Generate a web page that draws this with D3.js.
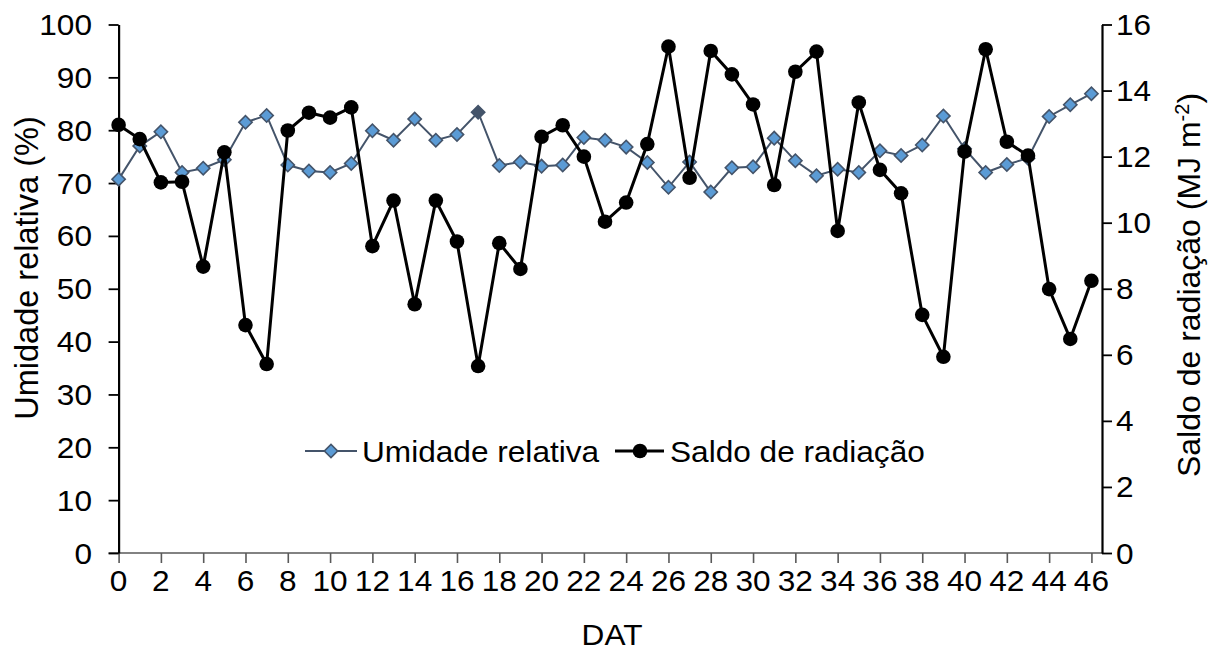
<!DOCTYPE html>
<html>
<head>
<meta charset="utf-8">
<script src="https://cdn.jsdelivr.net/npm/d3@7"></script>
<style>
  html, body { margin: 0; padding: 0; background: #ffffff; }
  svg { display: block; }
  text { font-family: "Liberation Sans", Arial, sans-serif; fill: #000; }
</style>
</head>
<body>
<div id="chart"></div>
<script>
// Days after transplanting (DAT)
const dias = d3.range(0, 47);

// Relative humidity (%)
const umidade = [
  70.7, 77.0, 79.7, 72.0, 72.8, 74.4, 81.5, 82.8, 73.4, 72.3,
  72.0, 73.7, 79.9, 78.1, 82.1, 78.1, 79.2, 83.4, 73.3, 74.0,
  73.2, 73.4, 78.6, 78.1, 76.8, 73.9, 69.2, 74.0, 68.3, 72.9,
  73.1, 78.5, 74.2, 71.4, 72.6, 72.0, 76.1, 75.2, 77.2, 82.7,
  76.5, 72.0, 73.5, 74.7, 82.6, 84.8, 86.9
];

// Net radiation (MJ m-2)
const saldo = [
  12.96, 12.53, 11.22, 11.24, 8.67, 12.13, 6.90, 5.72, 12.79, 13.33,
  13.18, 13.49, 9.29, 10.67, 7.53, 10.67, 9.43, 5.66, 9.38, 8.60,
  12.60, 12.95, 12.00, 10.03, 10.61, 12.38, 15.33, 11.36, 15.20, 14.49,
  13.58, 11.14, 14.57, 15.18, 9.75, 13.64, 11.60, 10.89, 7.21, 5.94,
  12.15, 15.25, 12.45, 12.03, 7.99, 6.48, 8.24
];

const ticksX = d3.range(0, 47, 2);
const ticksUmidade = d3.range(0, 101, 10);
const ticksSaldo = d3.range(0, 17, 2);
const destaque = 17; // highlighted humidity point

const W = 1219, H = 651;
const FS = 29;          // base font size
const SX = 1.09;        // horizontal glyph stretch

const svg = d3.select("#chart").append("svg")
  .attr("width", W).attr("height", H);

const x = d3.scaleLinear().domain([0, 46.5]).range([118.6, 1102]);
const yL = d3.scaleLinear().domain([0, 100]).range([553, 24.5]);
const yR = d3.scaleLinear().domain([0, 16]).range([553, 24.5]);

// text helper with slight horizontal stretch
function label(g, txt, px, py, anchor, size) {
  return g.append("text")
    .attr("transform", `translate(${px},${py}) scale(${SX},1)`)
    .attr("text-anchor", anchor)
    .style("font-size", (size || FS) + "px")
    .text(txt);
}

// ---- Axes ----
const axX = svg.append("g").attr("transform", `translate(0,${yL(0)})`)
  .call(d3.axisBottom(x).tickValues(ticksX).tickSize(10).tickFormat(""));
axX.select(".domain").attr("stroke", "#595959").attr("stroke-width", 1.6)
  .attr("d", `M${x(0) - 10},0H${x.range()[1]}`);
axX.selectAll(".tick line").attr("stroke", "#595959").attr("stroke-width", 1.6);
ticksX.forEach(t => label(svg, String(t), x(t), 591, "middle"));

const axL = svg.append("g").attr("transform", `translate(${x(0)},0)`)
  .call(d3.axisLeft(yL).tickValues(ticksUmidade).tickSize(10).tickSizeOuter(0).tickFormat(""));
axL.select(".domain").attr("stroke", "#000").attr("stroke-width", 2.2);
axL.selectAll(".tick line").attr("stroke", "#000").attr("stroke-width", 1.8);
ticksUmidade.forEach(t => label(svg, String(t), 92, yL(t) + 10.5, "end"));

const axR = svg.append("g").attr("transform", `translate(${x.range()[1]},0)`)
  .call(d3.axisRight(yR).tickValues(ticksSaldo).tickSize(10).tickSizeOuter(0).tickFormat(""));
axR.select(".domain").attr("stroke", "#000").attr("stroke-width", 2.2);
axR.selectAll(".tick line").attr("stroke", "#000").attr("stroke-width", 1.8);
ticksSaldo.forEach(t => label(svg, String(t), 1116, yR(t) + 10.5, "start"));

// Axis titles
label(svg, "DAT", 612, 645, "middle");

svg.append("text")
  .attr("transform", `translate(38,268) rotate(-90)`)
  .attr("text-anchor", "middle")
  .style("font-size", "32.5px")
  .text("Umidade relativa (%)");

const tR = svg.append("text")
  .attr("transform", `translate(1200,285) rotate(-90)`)
  .attr("text-anchor", "middle")
  .style("font-size", "32px");
tR.append("tspan").text("Saldo de radiação (MJ m");
tR.append("tspan").attr("dy", -11).style("font-size", "20px").text("-2");
tR.append("tspan").attr("dy", 11).text(")");

// ---- Series ----
const hum = dias.map((d, i) => ({ d, v: umidade[i] }));
const rad = dias.map((d, i) => ({ d, v: saldo[i] }));

const diamond = d3.symbol().type(d3.symbolSquare).size(88);

svg.append("path").datum(hum)
  .attr("fill", "none").attr("stroke", "#44546a").attr("stroke-width", 2)
  .attr("d", d3.line().x(p => x(p.d)).y(p => yL(p.v)));

svg.append("g").selectAll("path").data(hum).join("path")
  .attr("d", diamond)
  .attr("transform", p => `translate(${x(p.d)},${yL(p.v)}) rotate(45)`)
  .attr("fill", p => p.d === destaque ? "#44546a" : "#5b9bd5")
  .attr("stroke", "#44546a").attr("stroke-width", 1.6);

svg.append("path").datum(rad)
  .attr("fill", "none").attr("stroke", "#000").attr("stroke-width", 3)
  .attr("d", d3.line().x(p => x(p.d)).y(p => yR(p.v)));

svg.append("g").selectAll("circle").data(rad).join("circle")
  .attr("cx", p => x(p.d)).attr("cy", p => yR(p.v)).attr("r", 7.3)
  .attr("fill", "#000");

// ---- Legend ----
const lg = svg.append("g");
const ly = 451;
lg.append("line").attr("x1", 305).attr("x2", 357).attr("y1", ly).attr("y2", ly)
  .attr("stroke", "#44546a").attr("stroke-width", 2);
lg.append("path").attr("d", diamond)
  .attr("transform", `translate(331,${ly}) rotate(45)`)
  .attr("fill", "#5b9bd5").attr("stroke", "#44546a").attr("stroke-width", 1.6);
label(lg, "Umidade relativa", 362, ly + 10.5, "start");

lg.append("line").attr("x1", 615).attr("x2", 664).attr("y1", ly).attr("y2", ly)
  .attr("stroke", "#000").attr("stroke-width", 3);
lg.append("circle").attr("cx", 640).attr("cy", ly).attr("r", 7.3).attr("fill", "#000");
label(lg, "Saldo de radiação", 670, ly + 10.5, "start");
</script>
</body>
</html>
